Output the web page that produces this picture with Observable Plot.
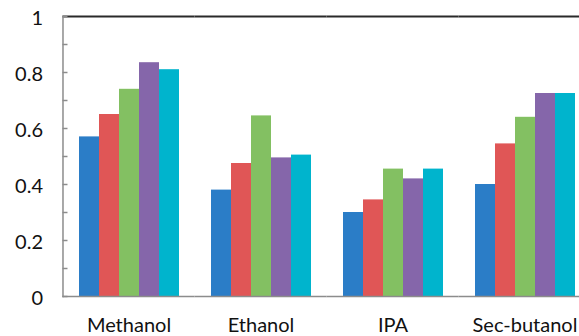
<!DOCTYPE html>
<html>
<head>
<meta charset="utf-8">
<script src="https://cdn.jsdelivr.net/npm/d3@7"></script>
<script src="https://cdn.jsdelivr.net/npm/@observablehq/plot@0.6"></script>
<style>
  html, body { margin: 0; padding: 0; background: #fff; overflow: hidden; }
  #chart svg { overflow: hidden; }
</style>
</head>
<body>
<div id="chart"></div>
<script>
// Solvents along the bottom, five measurements per solvent
const categories = ["Methanol", "Ethanol", "IPA", "Sec-butanol"];
const seriesNames = ["Run 1", "Run 2", "Run 3", "Run 4", "Run 5"];

const run1 = [0.57, 0.38, 0.30, 0.40];
const run2 = [0.65, 0.475, 0.345, 0.545];
const run3 = [0.74, 0.645, 0.455, 0.64];
const run4 = [0.835, 0.495, 0.42, 0.725];
const run5 = [0.81, 0.505, 0.455, 0.725];

const yTicks = [0, 0.2, 0.4, 0.6, 0.8, 1];
const yMinorTicks = [0, 0.1, 0.2, 0.3, 0.4, 0.5, 0.6, 0.7, 0.8, 0.9, 1];

const colors = ["#2b7dc7", "#e05656", "#83c062", "#8566aa", "#00b4cd"];

const seriesValues = [run1, run2, run3, run4, run5];
const rows = categories.flatMap((category, i) =>
  seriesNames.map((series, j) => ({category, series, value: seriesValues[j][i]}))
);

// Group layout: the band scale runs past the right edge of the SVG
const fxRange = [62, 590];
const paddingInner = 0.235;
const halfGap = (fxRange[1] - fxRange[0]) / categories.length * paddingInner / 2;
const axisGray = "#8c8c8c";

const chart = Plot.plot({
  width: 579,
  height: 336,
  marginLeft: 62,
  marginRight: 0,
  marginTop: 16,
  marginBottom: 40,
  style: {fontFamily: "Lato, 'Open Sans', sans-serif", fontSize: "20px", color: "#111", background: "#fff", overflow: "hidden"},
  fx: {domain: categories, range: fxRange, paddingInner, paddingOuter: paddingInner / 2, label: null, axis: null},
  x: {domain: seriesNames, padding: 0, axis: null},
  y: {domain: [0, 1], axis: null, label: null},
  color: {domain: seriesNames, range: colors},
  marks: [
    Plot.barY(rows, {fx: "category", x: "series", y: "value", fill: "series", inset: 0}),
    Plot.ruleY([0], {stroke: axisGray, strokeWidth: 1.5, insetLeft: -halfGap, insetRight: -halfGap}),
    Plot.ruleY([1], {stroke: "#2a2a2a", strokeWidth: 2, insetLeft: -halfGap, insetRight: -halfGap}),
    Plot.frame({anchor: "left", facetAnchor: "left", stroke: axisGray, strokeWidth: 1.5, insetLeft: -halfGap}),
    Plot.axisY({ticks: yMinorTicks, tickSize: 5, dx: -halfGap + 5, stroke: axisGray, strokeWidth: 1.5, fill: "none", label: null, facetAnchor: "left"}),
    Plot.axisY({ticks: yTicks, tickSize: 0, tickPadding: 20, dx: -halfGap, dy: 2, tickFormat: d => String(+d.toFixed(1)), label: null, facetAnchor: "left"}),
    Plot.axisFx({anchor: "bottom", tickSize: 0, tickPadding: 21, label: null})
  ]
});

document.getElementById("chart").append(chart);
</script>
</body>
</html>
